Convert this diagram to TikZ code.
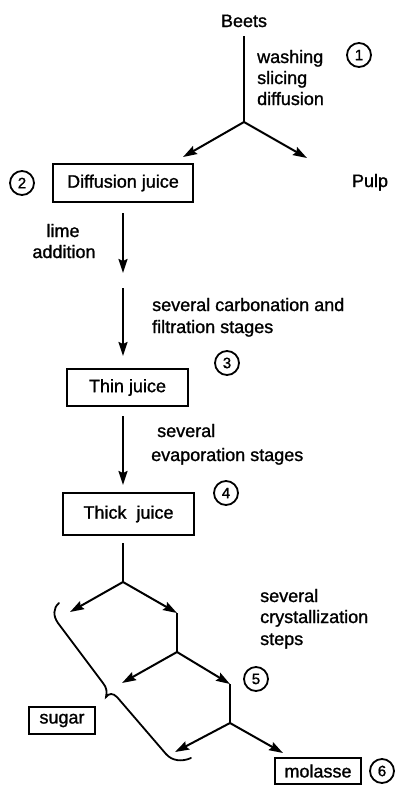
\documentclass[tikz,border=0pt]{standalone}
\usepackage{fontspec}
\setmainfont{Liberation Sans}[BoldFont=Liberation Sans,BoldFeatures={FakeBold=1.2}]
\usetikzlibrary{arrows.meta}
\begin{document}
\begin{tikzpicture}[x=1pt,y=-1pt,
  lbl/.style={inner sep=0pt,font=\fontsize{18}{21}\selectfont\bfseries},
  box/.style={draw,line width=1.8pt,inner sep=0pt,font=\fontsize{18}{21}\selectfont\bfseries},
  num/.style={draw,circle,line width=1.8pt,minimum size=24pt,inner sep=0pt,font=\fontsize{15}{15}\selectfont\bfseries},
  conn/.style={line width=2pt},
  arr/.style={conn,-{Stealth[length=14pt,width=9pt,inset=2pt]}}]
\useasboundingbox (0,0) rectangle (398,785);

% texts
\node[lbl,anchor=base] (beets) at (244,27) {Beets};
\node[lbl,anchor=base west] (wa) at (257,63) {washing};
\node[lbl,anchor=base west] (sl) at (257,84) {slicing};
\node[lbl,anchor=base west] (di) at (257,105) {diffusion};
\node[num] (n1) at (359,55) {1};

\node[box,minimum width=140pt,minimum height=38pt] (dj) at (123,183) {Diffusion juice};
\node[num] (n2) at (22,183) {2};
\node[lbl,anchor=base] (pulp) at (370,187) {Pulp};

\node[lbl,anchor=base] (lime) at (63,237) {lime};
\node[lbl,anchor=base] (addi) at (64,258) {addition};

\node[lbl,anchor=base west] (carb) at (152,311) {several carbonation and};
\node[lbl,anchor=base west] (filt) at (152,333) {filtration stages};
\node[num] (n3) at (227,363) {3};

\node[box,minimum width=121pt,minimum height=37pt] (tj) at (127.5,387.5) {Thin juice};

\node[lbl,anchor=base west] (sev1) at (157,437) {several};
\node[lbl,anchor=base west] (evap) at (151,461) {evaporation stages};
\node[num] (n4) at (226,493) {4};

\node[box,minimum width=131pt,minimum height=42pt] (thj) at (128.5,514) {Thick\ \ juice};

\node[lbl,anchor=base west] (sev2) at (260,602) {several};
\node[lbl,anchor=base west] (crys) at (260,623) {crystallization};
\node[lbl,anchor=base west] (stps) at (260,645) {steps};
\node[num] (n5) at (256,679) {5};

\node[box,minimum width=66pt,minimum height=27pt] (sugar) at (62,720.5) {sugar};
\node[box,minimum width=86pt,minimum height=26pt] (mol) at (318,771) {molasse};
\node[num] (n6) at (382,771) {6};

% coordinates
\coordinate (b1) at (244,122);
\coordinate (p1) at (183,157);
\coordinate (p2) at (307,158);
\coordinate (a1s) at (123,213);
\coordinate (a1e) at (123,273);
\coordinate (a2s) at (123,288);
\coordinate (a2e) at (123,356);
\coordinate (a3s) at (123,416);
\coordinate (a3e) at (123,485);
\coordinate (b2s) at (123,543);
\coordinate (b2) at (123,582);
\coordinate (c1) at (70,612);
\coordinate (c2) at (177,613);
\coordinate (b3) at (177,652);
\coordinate (c3) at (122,683);
\coordinate (c4) at (230,684);
\coordinate (b4) at (230,723);
\coordinate (c5) at (175,752);
\coordinate (c6) at (283,753);

% connectors
\draw[conn,shorten <=9pt] (beets.south) -- (b1);
\draw[arr] (b1) -- (p1);
\draw[arr] (b1) -- (p2);
\draw[arr] (a1s) -- (a1e);
\draw[arr] (a2s) -- (a2e);
\draw[arr] (a3s) -- (a3e);
\draw[conn] (b2s) -- (b2);
\draw[arr] (b2) -- (c1);
\draw[arr] (b2) -- (c2);
\draw[conn] (c2) -- (b3);
\draw[arr] (b3) -- (c3);
\draw[arr] (b3) -- (c4);
\draw[conn] (c4) -- (b4);
\draw[arr] (b4) -- (c5);
\draw[arr] (b4) -- (c6);

% brace
\draw[line width=1.8pt,line cap=round]
  (59,603) .. controls (53,608) and (53,616) .. (58,623)
  -- (103,683) .. controls (107,688) and (107,692) .. (106,697)
  .. controls (109,693) and (113,693) .. (117,697)
  -- (166,754) .. controls (172,761) and (182,762) .. (191,758);
\end{tikzpicture}
\end{document}
